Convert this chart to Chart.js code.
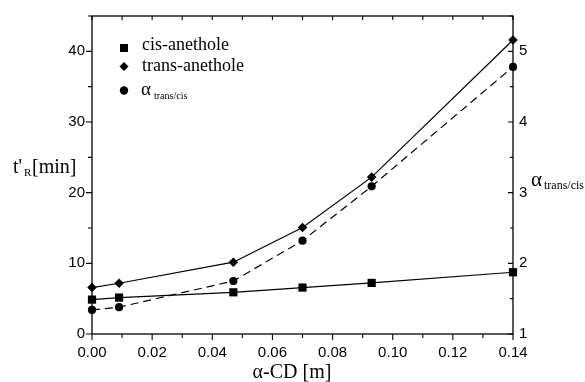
<!DOCTYPE html>
<html>
<head>
<meta charset="utf-8">
<script src="https://cdn.jsdelivr.net/npm/chart.js@4/dist/chart.umd.min.js"></script>
<style>
  html, body { margin: 0; padding: 0; background: #fff; }
  #wrap { width: 585px; height: 382px; }
</style>
</head>
<body>
<div id="wrap"><canvas id="chart" width="585" height="382"></canvas></div>
<script>
// alpha-CD concentration [m]
const cdConc = [0.0, 0.009, 0.047, 0.070, 0.093, 0.140];
// retention times t'R [min]
const cisTimes = [4.87, 5.15, 5.9, 6.57, 7.23, 8.74];
const transTimes = [6.57, 7.18, 10.16, 15.08, 22.2, 41.6];
// separation factor alpha trans/cis
const alphaValues = [1.34, 1.38, 1.75, 2.32, 3.09, 4.78];

const leftLabels = [0, 10, 20, 30, 40];
const rightLabels = [1, 2, 3, 4, 5];

function toPoints(xs, ys) {
    return xs.map((x, i) => ({ x: x, y: ys[i] }));
}

const serif = "'Liberation Serif', 'Times New Roman', serif";
const sans = "'Liberation Sans', Arial, sans-serif";

// draws the tick marks, frame, axis titles and legend
const decorPlugin = {
    id: 'decor',
    afterDraw(chart) {
        const ctx = chart.ctx;
        const area = chart.chartArea;
        const xs = chart.scales.x;
        const yl = chart.scales.yLeft;
        const yr = chart.scales.yRight;
        ctx.save();
        ctx.strokeStyle = '#000';
        ctx.lineWidth = 1.3;
        ctx.strokeRect(area.left, area.top, area.right - area.left, area.bottom - area.top);

        ctx.lineWidth = 1.1;
        ctx.beginPath();
        xs.ticks.forEach(t => {
            const px = xs.getPixelForValue(t.value);
            const major = Math.round(t.value * 100) % 2 === 0;
            ctx.moveTo(px, area.bottom);
            ctx.lineTo(px, area.bottom + (major ? 6 : 4));
            ctx.moveTo(px, area.top);
            ctx.lineTo(px, area.top + 4);
        });
        yl.ticks.forEach(t => {
            const py = yl.getPixelForValue(t.value);
            const major = t.value % 10 === 0;
            ctx.moveTo(area.left, py);
            ctx.lineTo(area.left - (major ? 6 : 4), py);
        });
        yr.ticks.forEach(t => {
            const py = yr.getPixelForValue(t.value);
            const major = Math.abs(t.value - Math.round(t.value)) < 1e-6;
            ctx.moveTo(area.right, py);
            ctx.lineTo(area.right - (major ? 5 : 3), py);
        });
        ctx.stroke();

        ctx.fillStyle = '#000';
        ctx.textBaseline = 'alphabetic';
        ctx.textAlign = 'left';

        // left title t'R[min]
        ctx.font = '20px ' + serif;
        ctx.fillText("t'", 13, 173);
        ctx.font = '11px ' + serif;
        ctx.fillText('R', 24, 176);
        ctx.font = '20px ' + serif;
        ctx.fillText('[min]', 32, 173);

        // bottom title
        ctx.textAlign = 'center';
        ctx.fillText('\u03b1-CD [m]', 292, 378);

        // right title alpha trans/cis
        ctx.textAlign = 'left';
        ctx.font = '21px ' + serif;
        ctx.fillText('\u03b1', 531, 186);
        ctx.font = '12px ' + serif;
        ctx.fillText('trans/cis', 544, 189);

        // legend
        const mx = 124;
        ctx.fillRect(mx - 4, 44, 8, 8);
        ctx.beginPath();
        ctx.moveTo(mx, 62);
        ctx.lineTo(mx + 4.5, 66.5);
        ctx.lineTo(mx, 71);
        ctx.lineTo(mx - 4.5, 66.5);
        ctx.closePath();
        ctx.fill();
        ctx.beginPath();
        ctx.arc(mx, 90.5, 4.2, 0, Math.PI * 2);
        ctx.fill();

        ctx.font = '18px ' + serif;
        ctx.fillText('cis-anethole', 142, 49.5);
        ctx.fillText('trans-anethole', 142, 71);
        ctx.font = '19px ' + serif;
        ctx.fillText('\u03b1', 141, 95);
        ctx.font = '10px ' + serif;
        ctx.fillText('trans/cis', 154, 98.5);
        ctx.restore();
    }
};

const commonLine = {
    borderColor: '#000',
    backgroundColor: '#000',
    pointBackgroundColor: '#000',
    pointBorderColor: '#000',
    pointBorderWidth: 0,
    borderWidth: 1.2,
    tension: 0,
    clip: false
};

new Chart(document.getElementById('chart'), {
    type: 'line',
    data: {
        datasets: [
            Object.assign({}, commonLine, {
                label: 'cis-anethole',
                data: toPoints(cdConc, cisTimes),
                yAxisID: 'yLeft',
                pointStyle: 'rect',
                pointRadius: 5.8
            }),
            Object.assign({}, commonLine, {
                label: 'trans-anethole',
                data: toPoints(cdConc, transTimes),
                yAxisID: 'yLeft',
                pointStyle: 'rectRot',
                pointRadius: 4.8
            }),
            Object.assign({}, commonLine, {
                label: 'alpha trans/cis',
                data: toPoints(cdConc, alphaValues),
                yAxisID: 'yRight',
                pointStyle: 'circle',
                pointRadius: 4.1,
                borderDash: [8, 5]
            })
        ]
    },
    options: {
        responsive: false,
        animation: false,
        devicePixelRatio: 1,
        layout: { padding: { top: 16, left: 0, right: 0, bottom: 0 } },
        plugins: { legend: { display: false }, tooltip: { enabled: false } },
        scales: {
            x: {
                type: 'linear',
                min: 0,
                max: 0.14,
                grid: { display: false, drawTicks: false },
                border: { display: false },
                afterFit: s => { s.height = 48; },
                ticks: {
                    stepSize: 0.01,
                    autoSkip: false,
                    maxRotation: 0,
                    padding: 10,
                    color: '#000',
                    font: { family: sans, size: 15 },
                    callback: v => (Math.round(v * 100) % 2 === 0 ? v.toFixed(2) : '')
                }
            },
            yLeft: {
                type: 'linear',
                position: 'left',
                min: 0,
                max: 45,
                grid: { display: false, drawTicks: false },
                border: { display: false },
                afterFit: s => { s.width = 92; },
                ticks: {
                    stepSize: 5,
                    autoSkip: false,
                    padding: 7,
                    color: '#000',
                    font: { family: sans, size: 15 },
                    callback: v => (leftLabels.includes(v) ? String(v) : '')
                }
            },
            yRight: {
                type: 'linear',
                position: 'right',
                min: 1,
                max: 5.5,
                grid: { display: false, drawTicks: false },
                border: { display: false },
                afterFit: s => { s.width = 72; },
                ticks: {
                    stepSize: 0.5,
                    autoSkip: false,
                    padding: 6,
                    color: '#000',
                    font: { family: sans, size: 15 },
                    callback: v => (rightLabels.includes(v) ? String(v) : '')
                }
            }
        }
    },
    plugins: [decorPlugin]
});
</script>
</body>
</html>
